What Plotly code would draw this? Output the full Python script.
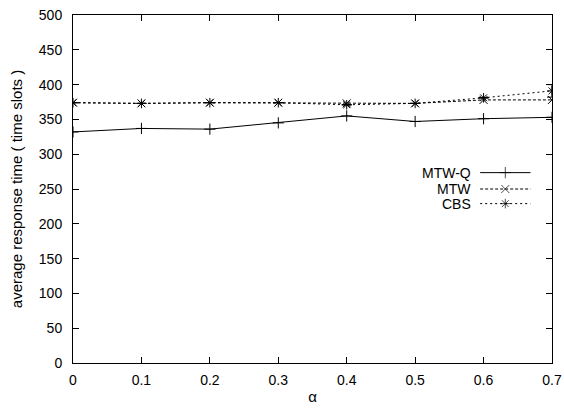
import plotly.graph_objects as go

alpha = [0, 0.1, 0.2, 0.3, 0.4, 0.5, 0.6, 0.7]
mtwq = [332, 337, 336, 345, 355, 347, 351, 353]
mtw = [374, 373, 374, 374, 373, 373, 378, 378]
cbs = [374, 373, 374, 374, 371, 373, 381, 391]
cbs_err = [0, 0, 0, 0, 0, 0, 0, 9]
names = ["MTW-Q", "MTW", "CBS"]
y_ticks = list(range(0, 501, 50))
x_ticks = [0, 0.1, 0.2, 0.3, 0.4, 0.5, 0.6, 0.7]

FONT = "Liberation Sans, Arial, sans-serif"
dashes = ["solid", "3px,2px", "2px,3px"]
symbols = ["cross-thin-open", "x-thin-open", "asterisk-open"]
series = [mtwq, mtw, cbs]

fig = go.Figure()
for i, (nm, ys) in enumerate(zip(names, series)):
    kw = {}
    if nm == "CBS":
        kw["error_y"] = dict(type="data", array=cbs_err, visible=True,
                             color="black", thickness=1, width=5)
    fig.add_trace(go.Scatter(
        x=alpha, y=ys, mode="lines+markers", name=nm, showlegend=False,
        line=dict(color="black", width=1, dash=dashes[i]),
        marker=dict(symbol=symbols[i], size=8, color="black",
                    line=dict(color="black", width=1)),
        **kw))

# custom gnuplot-style legend (text right-aligned, sample line to its right)
leg_y = [0.547, 0.500, 0.458]
x0, x1 = 0.850, 0.955
span = x1 - x0
for i, nm in enumerate(names):
    fig.add_trace(go.Scatter(
        x=[0, 0.5, 1], y=[leg_y[i]] * 3, mode="lines+markers",
        xaxis="x2", yaxis="y2", showlegend=False, hoverinfo="skip",
        line=dict(color="black", width=1, dash=dashes[i]),
        marker=dict(symbol=symbols[i], size=[0, 8, 0], color="black",
                    line=dict(color="black", width=1))))
    fig.add_annotation(x=0.835, y=leg_y[i], xref="paper", yref="paper",
                       text=nm, showarrow=False, xanchor="right",
                       yanchor="middle", font=dict(size=14, family=FONT, color="black"))

axis_common = dict(showline=True, linecolor="black", linewidth=1, mirror="ticks",
                   ticks="inside", ticklen=6, tickcolor="black", showgrid=False,
                   zeroline=False, automargin=False, ticklabeloverflow="allow",
                   tickfont=dict(size=14, family=FONT, color="black"))

fig.update_layout(
    width=564, height=408,
    margin=dict(l=73, r=12, t=15, b=45),
    paper_bgcolor="white", plot_bgcolor="rgba(0,0,0,0)",
    font=dict(family=FONT, size=14, color="black"),
    xaxis=dict(range=[0, 0.7], tickvals=x_ticks, ticktext=[str(v) for v in x_ticks],
               ticklabelstandoff=4,
               title=dict(text="α", standoff=4, font=dict(size=15)), **axis_common),
    yaxis=dict(range=[0, 500], tickvals=y_ticks, ticklabelstandoff=7,
               title=dict(text="average response time ( time slots )", standoff=12,
                          font=dict(size=15)), **axis_common),
    xaxis2=dict(range=[-x0 / span, (1 - x0) / span], overlaying="x", anchor="y2",
                visible=False, fixedrange=True),
    yaxis2=dict(range=[0, 1], overlaying="y", anchor="x2", visible=False,
                fixedrange=True),
)
fig.write_html("out.html", config={"displayModeBar": False},
               post_script="document.body.style.margin='0';document.body.style.overflow='hidden';")
